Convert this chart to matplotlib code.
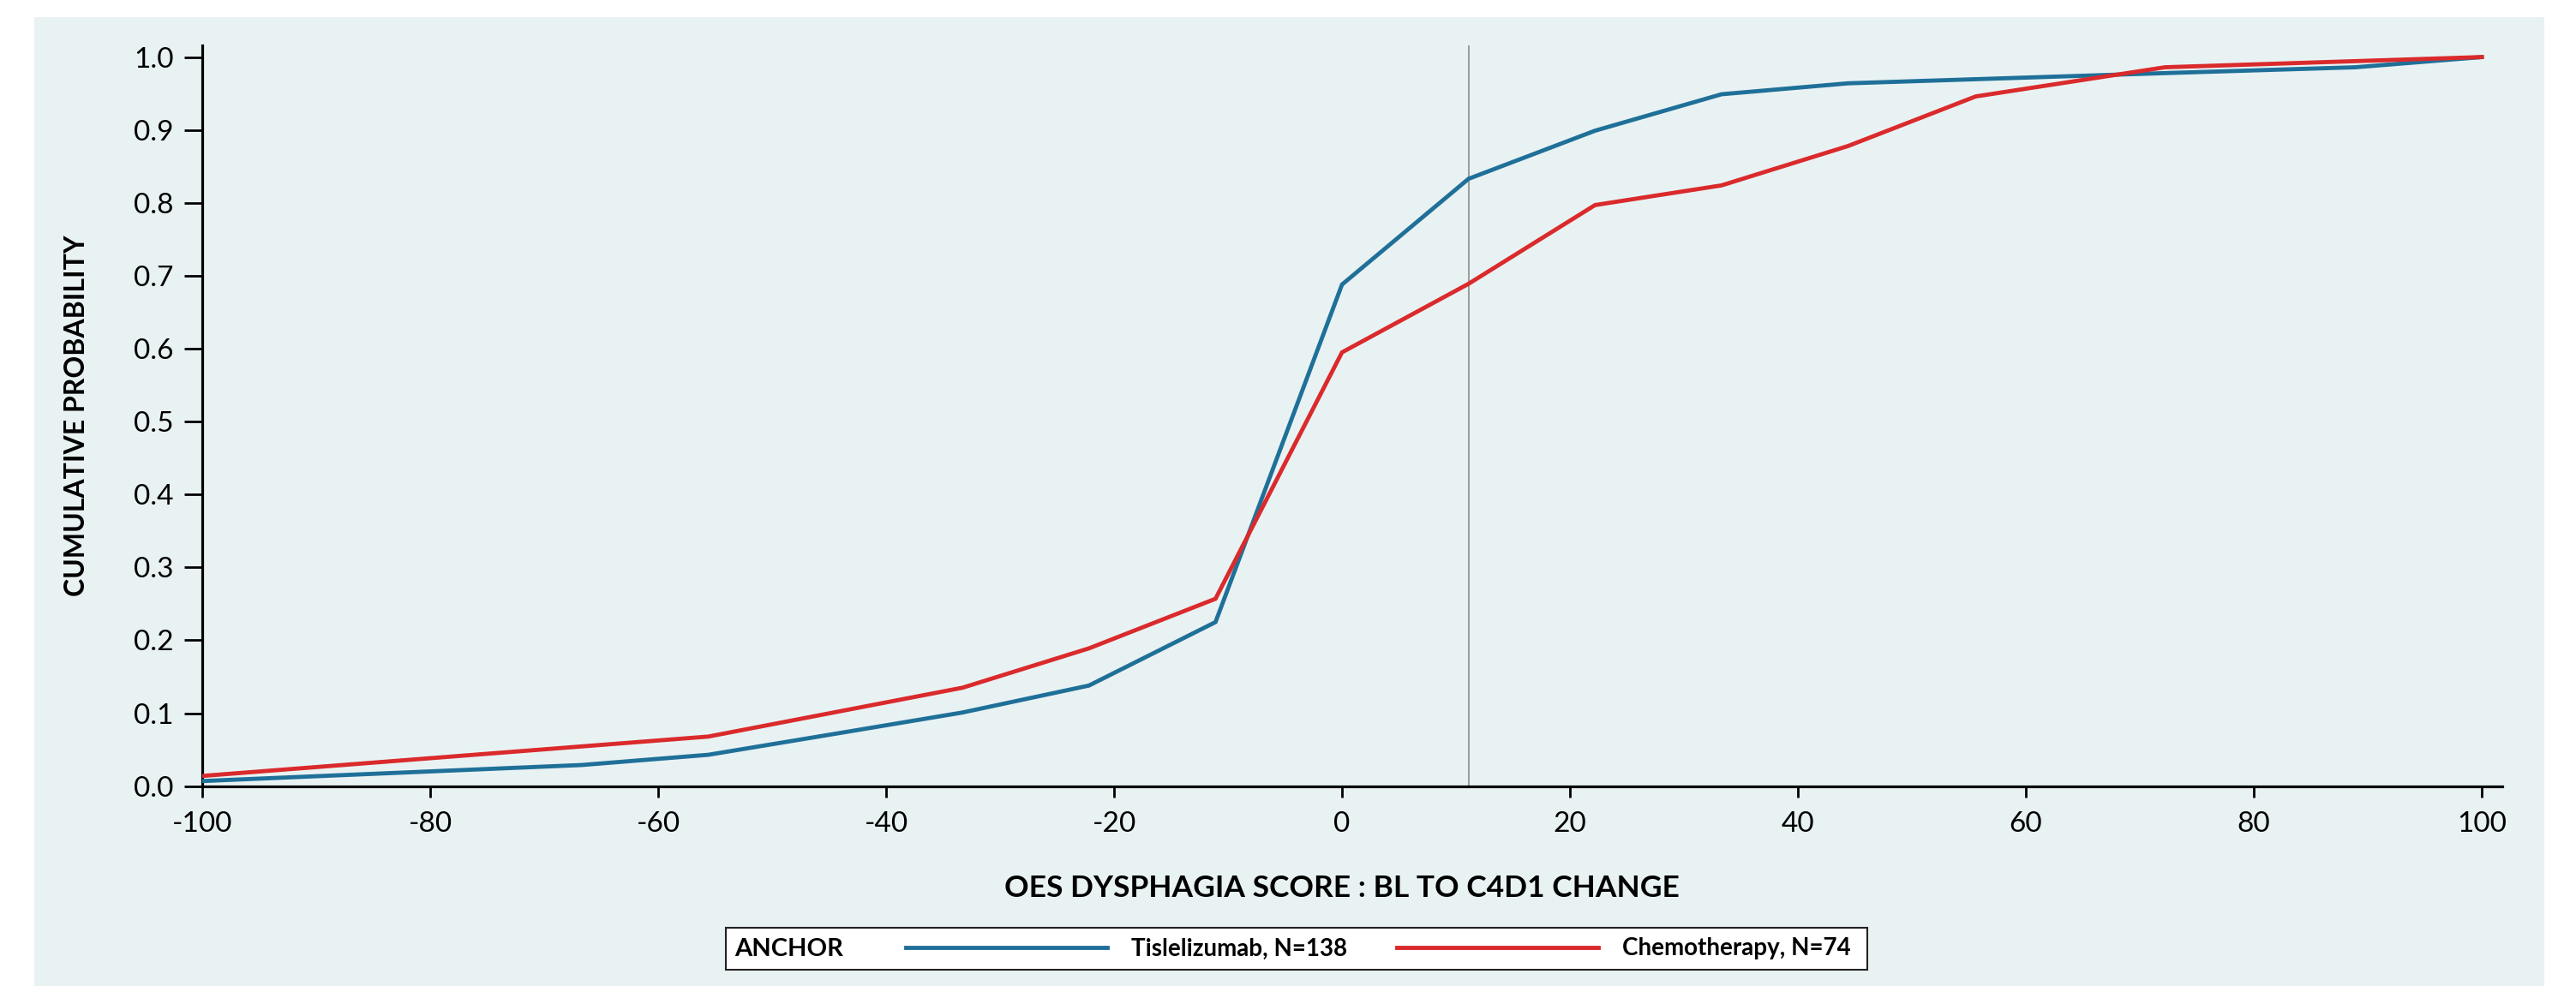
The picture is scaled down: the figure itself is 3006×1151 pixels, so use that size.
import matplotlib
matplotlib.use("Agg")
import matplotlib.pyplot as plt
from matplotlib.patches import Rectangle

# ---------------- data ----------------
tisl_x = [-100, -66.7, -55.6, -44.4, -33.3, -22.2, -11.1, 0, 11.1, 22.2, 33.3, 44.4, 72.2, 88.9, 100]
tisl_y = [0.007, 0.029, 0.043, 0.072, 0.101, 0.138, 0.225, 0.688, 0.833, 0.899, 0.949, 0.964, 0.978, 0.986, 1.0]

chemo_x = [-100, -55.6, -33.3, -22.2, -11.1, 0, 11.1, 22.2, 33.3, 44.4, 55.6, 72.2, 100]
chemo_y = [0.014, 0.068, 0.135, 0.189, 0.257, 0.595, 0.689, 0.797, 0.824, 0.878, 0.946, 0.986, 1.0]

ref_x = 11.1

x_ticks = [-100, -80, -60, -40, -20, 0, 20, 40, 60, 80, 100]
x_tick_labels = ["-100", "-80", "-60", "-40", "-20", "0", "20", "40", "60", "80", "100"]
y_ticks = [0.0, 0.1, 0.2, 0.3, 0.4, 0.5, 0.6, 0.7, 0.8, 0.9, 1.0]
y_tick_labels = ["0.0", "0.1", "0.2", "0.3", "0.4", "0.5", "0.6", "0.7", "0.8", "0.9", "1.0"]

series_labels = ["Tislelizumab, N=138", "Chemotherapy, N=74"]
study_label = "ANCHOR"
x_label = "OES DYSPHAGIA SCORE : BL TO C4D1 CHANGE"
y_label = "CUMULATIVE PROBABILITY"

# ---------------- style ----------------
plt.rcParams['font.family'] = ['Lato', 'DejaVu Sans']
BLUE = '#1F7099'
RED = '#DA2A2C'
PANEL = '#E9F2F3'

W, H = 3006, 1151
fig = plt.figure(figsize=(W / 100, H / 100), dpi=100, facecolor='white')

# light panel background
fig.patches.append(Rectangle((40 / W, 0), (2969 - 40) / W, (H - 20) / H,
                             transform=fig.transFigure, facecolor=PANEL,
                             edgecolor='none', zorder=-2))

ax_left, ax_right = 236 / W, 2920 / W
ax_bottom, ax_top = (H - 917.7) / H, (H - 53) / H
ax = fig.add_axes([ax_left, ax_bottom, ax_right - ax_left, ax_top - ax_bottom])
ax.set_facecolor('none')

ax.axvline(ref_x, color='#8C8C8C', lw=1.2, zorder=1)
l1, = ax.plot(tisl_x, tisl_y, color=BLUE, lw=3.5, solid_joinstyle='miter', zorder=3)
l2, = ax.plot(chemo_x, chemo_y, color=RED, lw=3.5, solid_joinstyle='miter', zorder=3)

ax.set_xlim(-100, 101.8)
ax.set_ylim(0, 1.016)

for s in ['top', 'right']:
    ax.spines[s].set_visible(False)
for s in ['left', 'bottom']:
    ax.spines[s].set_linewidth(2.3)
    ax.spines[s].set_color('black')

ax.set_xticks(x_ticks)
ax.set_xticklabels(x_tick_labels)
ax.set_yticks(y_ticks)
ax.set_yticklabels(y_tick_labels)
ax.tick_params(axis='x', length=9.4, width=2.0, pad=12, labelsize=24, colors='black')
ax.tick_params(axis='y', length=15, width=2.0, pad=9, labelsize=24, colors='black')

ax.set_xlabel(x_label, fontsize=25.5, fontweight='bold', va='center')
ax.xaxis.set_label_coords(0.4955, -0.138)
ax.set_ylabel(y_label, fontsize=23, fontweight='bold', va='center')
ax.yaxis.set_label_coords(-0.0544, 0.5)

# legend box
fig.patches.append(Rectangle((847 / W, (H - 1132) / H), (2179 - 847) / W, 49 / H,
                             transform=fig.transFigure, facecolor='white',
                             edgecolor='#222222', lw=1.5, zorder=-1))
fig.text(857 / W, (H - 1107.5) / H, study_label, fontsize=21, fontweight='bold',
         ha='left', va='center')
fs = 20
fs_px = fs * 100 / 72
fig.legend([l1, l2], series_labels, loc='center left',
           bbox_to_anchor=(1057 / W, (H - 1107.5) / H), bbox_transform=fig.transFigure,
           frameon=False, ncol=2, borderpad=0, borderaxespad=0,
           handlelength=235 / fs_px, handletextpad=1.0, columnspacing=2.1,
           prop={'size': fs, 'weight': 'bold'})

fig.savefig('out.png', dpi=100, facecolor='white')
